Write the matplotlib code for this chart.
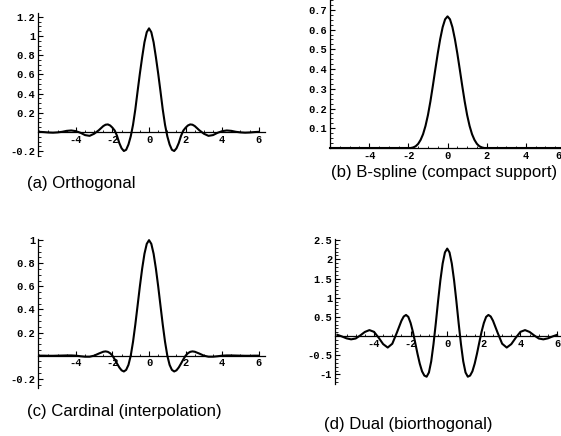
import matplotlib
matplotlib.use("Agg")
import matplotlib.pyplot as plt
from matplotlib.ticker import FixedLocator, MultipleLocator
from matplotlib.transforms import ScaledTranslation

# ---------------- data ----------------
x = [-6.0, -5.75, -5.5, -5.25, -5.0, -4.75, -4.5, -4.25, -4.0, -3.75, -3.5, -3.25,
     -3.0, -2.75, -2.5, -2.375, -2.25, -2.125, -2.0, -1.875, -1.75, -1.625, -1.5,
     -1.375, -1.25, -1.125, -1.0, -0.875, -0.75, -0.625, -0.5, -0.375, -0.25, -0.125,
     0.0,
     0.125, 0.25, 0.375, 0.5, 0.625, 0.75, 0.875, 1.0, 1.125, 1.25, 1.375, 1.5,
     1.625, 1.75, 1.875, 2.0, 2.125, 2.25, 2.375, 2.5, 2.75, 3.0, 3.25, 3.5, 3.75,
     4.0, 4.25, 4.5, 4.75, 5.0, 5.25, 5.5, 5.75, 6.0]

orthogonal = [0.002, -0.001, -0.005, -0.007, -0.004, 0.002, 0.012, 0.016, 0.009, -0.008,
              -0.032, -0.040, -0.018, 0.018, 0.062, 0.076, 0.079, 0.068, 0.045, 0.015,
              -0.040, -0.115, -0.170, -0.198, -0.185, -0.130, -0.045, 0.075, 0.235,
              0.425, 0.610, 0.780, 0.935, 1.040,
              1.080,
              1.040, 0.935, 0.780, 0.610, 0.425, 0.235, 0.075, -0.045, -0.130, -0.185,
              -0.198, -0.170, -0.115, -0.040, 0.015, 0.045, 0.068, 0.079, 0.076, 0.062,
              0.018, -0.018, -0.040, -0.032, -0.008, 0.009, 0.016, 0.012, 0.002, -0.004,
              -0.007, -0.005, -0.001, 0.002]

bspline = [0.0, 0.0, 0.0, 0.0, 0.0, 0.0, 0.0, 0.0, 0.0, 0.0, 0.0, 0.0,
           0.0, 0.0, 0.0, 0.0, 0.0, 0.0, 0.0, 0.0, 0.003, 0.009, 0.021,
           0.041, 0.070, 0.112, 0.167, 0.236, 0.315, 0.398, 0.479, 0.552, 0.612, 0.652,
           0.667,
           0.652, 0.612, 0.552, 0.479, 0.398, 0.315, 0.236, 0.167, 0.112, 0.070, 0.041,
           0.021, 0.009, 0.003, 0.0, 0.0, 0.0, 0.0, 0.0, 0.0, 0.0, 0.0, 0.0, 0.0, 0.0,
           0.0, 0.0, 0.0, 0.0, 0.0, 0.0, 0.0, 0.0, 0.0]

cardinal = [0.000, 0.000, -0.001, -0.001, 0.000, 0.001, 0.002, 0.002, 0.000, -0.005,
            -0.009, -0.009, 0.000, 0.018, 0.034, 0.037, 0.033, 0.021, 0.000, -0.032,
            -0.068, -0.102, -0.127, -0.137, -0.123, -0.080, 0.000, 0.120, 0.269,
            0.434, 0.601, 0.754, 0.882, 0.968,
            1.000,
            0.968, 0.882, 0.754, 0.601, 0.434, 0.269, 0.120, 0.000, -0.080, -0.123,
            -0.137, -0.127, -0.102, -0.068, -0.032, 0.000, 0.021, 0.033, 0.037, 0.034,
            0.018, 0.000, -0.009, -0.009, -0.005, 0.000, 0.002, 0.002, 0.001, 0.000,
            -0.001, -0.001, 0.000, 0.000]

dual = [0.032, -0.011, -0.060, -0.086, -0.064, 0.016, 0.107, 0.155, 0.11, -0.04,
        -0.21, -0.30, -0.20, 0.09, 0.40, 0.51, 0.55, 0.50, 0.34, 0.11,
        -0.17, -0.46, -0.72, -0.92, -1.03, -1.06, -0.95, -0.66, -0.21,
        0.33, 0.91, 1.45, 1.89, 2.18,
        2.28,
        2.18, 1.89, 1.45, 0.91, 0.33, -0.21, -0.66, -0.95, -1.06, -1.03,
        -0.92, -0.72, -0.46, -0.17, 0.11, 0.34, 0.50, 0.55, 0.51, 0.40,
        0.09, -0.20, -0.30, -0.21, -0.04, 0.11, 0.155, 0.107, 0.016, -0.064,
        -0.086, -0.060, -0.011, 0.032]

x_ticks = [-4, -2, 0, 2, 4, 6]
x_labels = ["-4", "-2", "0", "2", "4", "6"]

a_yticks = [-0.2, 0.2, 0.4, 0.6, 0.8, 1.0, 1.2]
a_ylabels = ["-0.2", "0.2", "0.4", "0.6", "0.8", "1", "1.2"]
b_yticks = [0.1, 0.2, 0.3, 0.4, 0.5, 0.6, 0.7]
b_ylabels = ["0.1", "0.2", "0.3", "0.4", "0.5", "0.6", "0.7"]
c_yticks = [-0.2, 0.2, 0.4, 0.6, 0.8, 1.0]
c_ylabels = ["-0.2", "0.2", "0.4", "0.6", "0.8", "1"]
d_yticks = [-1.0, -0.5, 0.5, 1.0, 1.5, 2.0, 2.5]
d_ylabels = ["-1", "-0.5", "0.5", "1", "1.5", "2", "2.5"]

captions = ["(a) Orthogonal", "(b) B-spline (compact support)",
            "(c) Cardinal (interpolation)", "(d) Dual (biorthogonal)"]

# ---------------- figure ----------------
W, H = 561, 436
fig = plt.figure(figsize=(W / 100, H / 100), dpi=100)
fig.patch.set_facecolor("white")

TICKFONT = "Liberation Mono"
CAPFONT = "Liberation Sans"


def px_axes(x0, x1, y0, y1):
    return fig.add_axes([x0 / W, 1 - y1 / H, (x1 - x0) / W, (y1 - y0) / H])


def draw(ax, yvals, xlim, ylim, yt, yl, yminor):
    ax.plot(x, yvals, color="black", lw=1.5, clip_on=False, solid_joinstyle="round")
    ax.set_xlim(*xlim)
    ax.set_ylim(*ylim)
    for s in ["top", "right"]:
        ax.spines[s].set_visible(False)
    ax.spines["bottom"].set_position(("data", 0))
    for s in ["bottom", "left"]:
        ax.spines[s].set_linewidth(0.9)
    ax.xaxis.set_major_locator(FixedLocator(x_ticks))
    ax.set_xticklabels(x_labels)
    ax.xaxis.set_minor_locator(MultipleLocator(0.5))
    ax.yaxis.set_major_locator(FixedLocator(yt))
    ax.set_yticklabels(yl)
    ax.yaxis.set_minor_locator(MultipleLocator(yminor))
    ax.tick_params(which="major", direction="in", length=3.5, width=0.8,
                   labelsize=7.5, pad=2)
    ax.tick_params(which="minor", direction="in", length=1.8, width=0.6)
    for lbl in ax.get_xticklabels() + ax.get_yticklabels():
        lbl.set_fontfamily(TICKFONT)
        lbl.set_fontweight("bold")
    ax.patch.set_alpha(0)


ax_a = px_axes(38, 265, 13, 156)
draw(ax_a, orthogonal, (-6.07, 6.34), (-0.25, 1.24), a_yticks, a_ylabels, 0.05)

ax_b = px_axes(330, 569, -1, 148)
draw(ax_b, bspline, (-6.0, 6.2), (0.0, 0.755), b_yticks, b_ylabels, 0.025)
# keep the last "6" label just inside the right edge of the figure
last = ax_b.get_xticklabels()[-1]
last.set_transform(last.get_transform() +
                   ScaledTranslation(-7 / 100, 0, fig.dpi_scale_trans))

ax_c = px_axes(38, 265, 239, 388)
draw(ax_c, cardinal, (-6.07, 6.34), (-0.28, 1.01), c_yticks, c_ylabels, 0.05)

ax_d = px_axes(335, 560, 239, 384)
draw(ax_d, dual, (-6.13, 6.16), (-1.25, 2.53), d_yticks, d_ylabels, 0.1)

cap_pos = [(27, 188), (331, 177), (27, 416), (324, 429)]
for (cx, cy), txt in zip(cap_pos, captions):
    fig.text(cx / W, 1 - cy / H, txt, fontsize=12.1, family=CAPFONT,
             ha="left", va="baseline")

fig.savefig("out.png", dpi=100, facecolor="white")
